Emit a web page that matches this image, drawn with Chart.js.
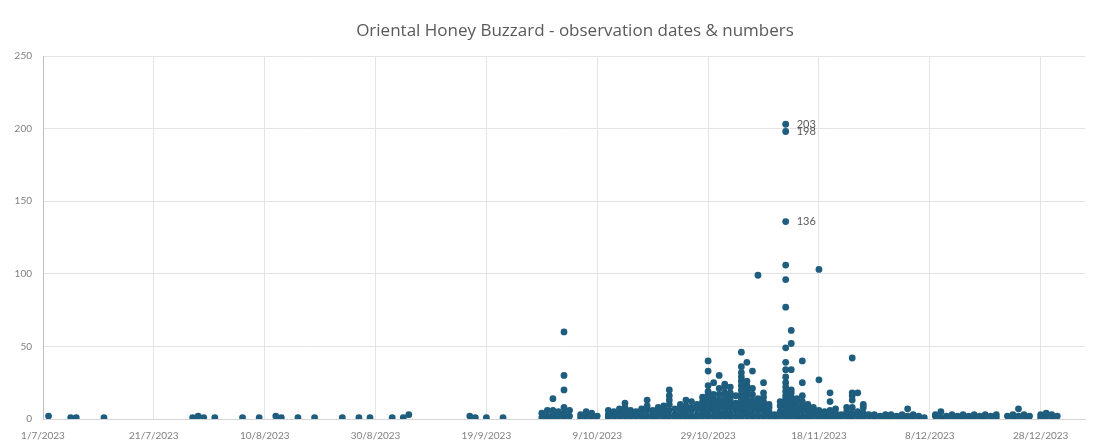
<!DOCTYPE html>
<html>
<head>
<meta charset="utf-8">
<title>Oriental Honey Buzzard - observation dates &amp; numbers</title>
<script src="https://cdn.jsdelivr.net/npm/chart.js@4.4.1/dist/chart.umd.min.js"></script>
<style>
  html, body { margin: 0; padding: 0; background: #fff; }
  #wrap { position: relative; width: 1099px; height: 445px; overflow: hidden; }
  #title { position: absolute; left: 0; top: 18px; width: 1150px; text-align: center;
           font: 17px "Open Sans", Lato, sans-serif; color: #595959; white-space: nowrap; }
  #chart { position: absolute; left: 0; top: 0; }
</style>
</head>
<body>
<div id="wrap">
  <canvas id="chart" width="1099" height="445"></canvas>
  <div id="title">Oriental Honey Buzzard - observation dates &amp; numbers</div>
</div>
<script>
// one entry per record: day of month + number of birds counted
const julDays   = [2, 6, 7, 12, 28, 29, 30];
const julCounts = [2, 1, 1, 1, 1, 2, 1];

const augDays   = [1, 6, 9, 12, 13, 16, 19, 24, 27, 29];
const augCounts = [1, 1, 1, 2, 1, 1, 1, 1, 1, 1];

const sepDays   = [2, 4, 5, 16, 17, 19, 22, 29, 29, 30, 30];
const sepCounts = [1, 1, 3, 2, 1, 1, 1, 1, 4, 2, 6];

const octDays = [
  1, 1, 1, 1, 2, 2, 3, 3, 3, 3, 3, 3, 4, 4, 6, 6, 7, 7, 8, 8, 9,
  11, 11, 11, 12, 12, 13, 13, 13, 14, 14, 14, 14, 15, 15, 15, 16, 16, 17, 17, 17,
  18, 18, 18, 18, 19, 19, 19, 20, 20, 20, 21, 21, 21, 21, 22, 22, 22, 22, 22, 22,
  23, 23, 23, 24, 24, 24, 24, 25, 25, 25, 25, 25, 26, 26, 26, 26, 27, 27, 27, 27,
  28, 28, 28, 28, 28, 28, 29, 29, 29, 29, 29, 29, 29, 29, 29, 29, 29,
  30, 30, 30, 30, 30, 30, 30, 31, 31, 31, 31, 31, 31, 31, 31
];
const octCounts = [
  1, 3, 6, 14, 2, 5, 1, 4, 8, 20, 30, 60, 2, 6, 1, 3, 2, 5, 1, 4, 2,
  1, 3, 6, 2, 5, 1, 4, 7, 2, 5, 8, 11, 1, 3, 6, 2, 5, 1, 4, 7,
  2, 6, 9, 13, 1, 3, 6, 2, 5, 8, 1, 4, 7, 9, 2, 6, 10, 13, 16, 20,
  1, 3, 7, 2, 5, 8, 10, 1, 4, 7, 9, 13, 2, 6, 8, 12, 1, 3, 7, 10,
  2, 5, 8, 10, 12, 15, 1, 4, 7, 9, 12, 14, 17, 19, 23, 33, 40,
  2, 6, 9, 11, 14, 17, 25, 1, 4, 8, 11, 13, 17, 21, 30
];

const novDays = [
  1, 1, 1, 1, 1, 1, 1, 1, 1, 2, 2, 2, 2, 2, 2, 2, 2,
  3, 3, 3, 3, 3, 4, 4, 4, 4, 4, 4, 4, 4, 4, 4, 4, 4, 4, 4,
  5, 5, 5, 5, 5, 5, 5, 5, 5, 5, 5, 6, 6, 6, 6, 6, 6, 6, 6,
  7, 7, 7, 7, 7, 7, 8, 8, 8, 8, 8, 8, 8, 8, 9, 9, 9, 9,
  10, 10, 11, 11, 11, 11,
  12, 12, 12, 12, 12, 12, 12, 12, 12, 12, 12, 12, 12, 12, 12, 12, 12, 12, 12, 12, 12,
  13, 13, 13, 13, 13, 13, 13, 13, 13, 13, 13, 14, 14, 14, 14, 14, 14,
  15, 15, 15, 15, 15, 15, 15, 16, 16, 16, 16, 17, 17, 17, 18, 18, 18, 18, 18,
  19, 19, 20, 20, 20, 20, 20, 21, 21, 21, 22, 22, 23, 23, 23,
  24, 24, 24, 24, 24, 24, 24, 25, 25, 25, 26, 26, 26, 26,
  27, 27, 28, 28, 29, 30, 30
];
const novCounts = [
  2, 5, 7, 10, 12, 15, 18, 22, 24, 1, 4, 8, 11, 13, 16, 18, 22,
  2, 6, 9, 11, 16, 1, 4, 7, 9, 12, 14, 17, 20, 23, 26, 29, 32, 36, 46,
  2, 5, 8, 10, 13, 16, 19, 21, 23, 26, 39, 1, 4, 8, 11, 13, 17, 21, 33,
  2, 6, 8, 11, 14, 99, 1, 4, 7, 9, 12, 15, 18, 25, 2, 5, 8, 10,
  1, 3, 2, 5, 9, 12,
  1, 4, 6, 8, 10, 12, 14, 16, 19, 22, 25, 29, 34, 39, 49, 77, 96, 106, 136, 198, 203,
  2, 5, 8, 10, 13, 15, 18, 20, 34, 52, 61, 1, 4, 7, 9, 12, 14,
  2, 6, 9, 12, 16, 25, 40, 1, 4, 7, 10, 2, 5, 8, 1, 4, 6, 27, 103,
  2, 5, 1, 3, 6, 12, 18, 2, 4, 7, 1, 3, 2, 5, 8,
  1, 4, 8, 13, 16, 18, 42, 2, 5, 18, 1, 4, 8, 10,
  2, 3, 1, 3, 2, 1, 3
];

const decDays = [
  1, 1, 2, 3, 3, 4, 4, 5, 5, 6, 7,
  9, 9, 10, 10, 11, 12, 12, 13, 14, 14, 15,
  16, 16, 17, 18, 18, 19, 20, 20, 22, 23, 23,
  24, 24, 25, 25, 26, 28, 28, 29, 29, 30, 30, 31
];
const decCounts = [
  1, 3, 2, 1, 3, 2, 7, 1, 3, 2, 1,
  2, 3, 1, 5, 2, 1, 3, 2, 1, 3, 2,
  1, 3, 2, 1, 3, 2, 1, 3, 2, 1, 3,
  2, 7, 1, 3, 2, 1, 3, 2, 4, 1, 3, 2
];

// x axis: days since 1/7/2023, gridline every 20 days
const axisDays = { min: 0, max: 188, step: 20 };
const countTicks = { min: 0, max: 250, step: 50 };
const labelFrom = 130;   // counts at or above this get their value written beside the dot

const DAY_MS = 86400000;
const seasonStart = Date.UTC(2023, 6, 1);

function dayIndex(month, day) {
  return (Date.UTC(2023, month - 1, day) - seasonStart) / DAY_MS;
}

function dateLabel(v) {
  const d = new Date(seasonStart + v * DAY_MS);
  return d.getUTCDate() + '/' + (d.getUTCMonth() + 1) + '/' + d.getUTCFullYear();
}

const months = [
  [7, julDays, julCounts],
  [8, augDays, augCounts],
  [9, sepDays, sepCounts],
  [10, octDays, octCounts],
  [11, novDays, novCounts],
  [12, decDays, decCounts]
];

const points = [];
months.forEach(([m, days, counts]) => {
  days.forEach((d, i) => points.push({ x: dayIndex(m, d), y: counts[i] }));
});

// write the value next to the biggest counts
const pointValues = {
  id: 'pointValues',
  afterDatasetsDraw(chart) {
    const meta = chart.getDatasetMeta(0);
    const ctx = chart.ctx;
    ctx.save();
    ctx.font = '11px Lato, "Open Sans", sans-serif';
    ctx.fillStyle = '#595959';
    ctx.textBaseline = 'middle';
    meta.data.forEach((el, i) => {
      const v = points[i].y;
      if (v < labelFrom) return;
      ctx.fillText(String(v), el.x + 11, el.y);
    });
    ctx.restore();
  }
};

const tickFont = { family: 'Lato, "Open Sans", sans-serif', size: 10 };

new Chart(document.getElementById('chart'), {
  type: 'scatter',
  data: {
    datasets: [{
      data: points,
      backgroundColor: '#1e5d7e',
      borderWidth: 0,
      pointRadius: 3.4,
      pointHoverRadius: 3.4
    }]
  },
  options: {
    responsive: false,
    animation: false,
    devicePixelRatio: 1,
    layout: { padding: { top: 56, right: 14, left: 0, bottom: 0 } },
    plugins: { legend: { display: false }, title: { display: false }, tooltip: { enabled: false } },
    scales: {
      x: {
        type: 'linear',
        min: axisDays.min,
        max: axisDays.max,
        afterFit: s => { s.height = 26; },
        grid: { color: '#e4e4e4', drawTicks: false },
        border: { color: '#d6d6d6' },
        ticks: {
          stepSize: axisDays.step,
          includeBounds: false,
          autoSkip: false,
          maxRotation: 0,
          padding: 11,
          color: '#7f7f7f',
          font: tickFont,
          callback: v => dateLabel(v)
        }
      },
      y: {
        min: countTicks.min,
        max: countTicks.max,
        afterFit: s => { s.width = 43; },
        grid: { color: '#e4e4e4', drawTicks: false },
        border: { color: '#bfbfbf' },
        ticks: {
          stepSize: countTicks.step,
          padding: 11,
          color: '#7f7f7f',
          font: tickFont
        }
      }
    }
  },
  plugins: [pointValues]
});
</script>
</body>
</html>
